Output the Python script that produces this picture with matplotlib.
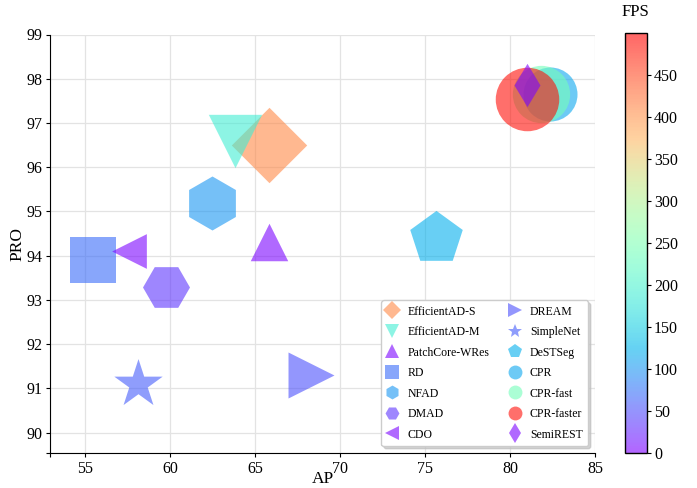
import numpy as np
import matplotlib
matplotlib.use("Agg")
import matplotlib.pyplot as plt
from matplotlib.colors import ListedColormap, Normalize
from matplotlib.lines import Line2D
from matplotlib.cm import ScalarMappable

plt.rcParams['font.family'] = 'serif'
plt.rcParams['font.serif'] = ['Liberation Serif', 'DejaVu Serif']

# Methods and their scores
methods = ["EfficientAD-S", "EfficientAD-M", "PatchCore-WRes", "RD", "NFAD", "DMAD", "CDO",
           "DREAM", "SimpleNet", "DeSTSeg", "CPR", "CPR-fast", "CPR-faster", "SemiREST"]
ap = [65.85, 63.8, 65.85, 55.45, 62.5, 59.8, 57.6,
      68.3, 58.1, 75.65, 82.35, 81.85, 81.0, 81.0]
pro = [96.5, 96.6, 94.3, 93.9, 95.2, 93.3, 94.1,
       91.3, 91.1, 94.4, 97.65, 97.65, 97.55, 97.85]
fps = [410, 190, 5, 70, 100, 34, 5,
       52, 60, 122, 115, 240, 490, 5]

# Marker style and area for each method
markers = ["D", "v", "^", "s", "h", "H", "<", ">", "*", "p", "o", "o", "o", "d"]
marker_area = [1474, 1476, 729, 1090, 1512, 1144, 625,
               1096, 1340, 1580, 1512, 1703, 2090, 487]

# rainbow colormap with transparency baked in
base = plt.get_cmap("rainbow")(np.linspace(0, 1, 256))
base[:, 3] = 0.6
cmap = ListedColormap(base)
norm = Normalize(vmin=0, vmax=500)

fig = plt.figure(figsize=(6.97, 4.88), dpi=100)
ax = fig.add_axes([50 / 697, 35 / 488, 545 / 697, 418.5 / 488])

handles = []
for name, x, y, f, m, s in zip(methods, ap, pro, fps, markers, marker_area):
    col = cmap(norm(f))
    ax.scatter([x], [y], s=s, marker=m, color=[col], linewidths=0, zorder=3)
    handles.append(Line2D([], [], linestyle="none", marker=m, markersize=10 if m != "D" else 9.4,
                          markerfacecolor=col, markeredgewidth=0, label=name))

ax.set_xlim(52.95, 85)
ax.set_ylim(89.54, 99)
ax.set_xticks([52.95, 55, 60, 65, 70, 75, 80, 85])
ax.set_xticklabels(["", "55", "60", "65", "70", "75", "80", "85"])
ax.set_yticks([89.54, 90, 91, 92, 93, 94, 95, 96, 97, 98, 99])
ax.set_yticklabels([""] + [str(v) for v in range(90, 100)])
ax.tick_params(labelsize=11.5, length=3, pad=2.5)
ax.grid(True, color="#e3e3e3", linewidth=0.9)
ax.set_axisbelow(True)
for side in ("top", "right"):
    ax.spines[side].set_visible(False)
ax.set_xlabel("AP", fontsize=12.5, labelpad=-4)
ax.set_ylabel("PRO", fontsize=12.5, labelpad=1)

ax.legend(handles=handles, ncol=2, loc="lower right", fontsize=8.5,
          handlelength=1.0, handletextpad=0.8, columnspacing=1.6,
          labelspacing=0.72, borderpad=0.45, borderaxespad=0.6,
          framealpha=1, edgecolor="0.8", shadow={"color": "0.75", "alpha": 0.7})

cax = fig.add_axes([625 / 697, 35 / 488, 21.5 / 697, 420 / 488])
sm = ScalarMappable(norm=norm, cmap=cmap)
cbar = fig.colorbar(sm, cax=cax, ticks=np.arange(0, 500, 50))
cbar.ax.tick_params(labelsize=11.5, length=3, pad=2.5)
cbar.outline.set_linewidth(1.0)
cbar.ax.set_title("FPS", fontsize=12, pad=12)

fig.savefig("out.png", dpi=100)
